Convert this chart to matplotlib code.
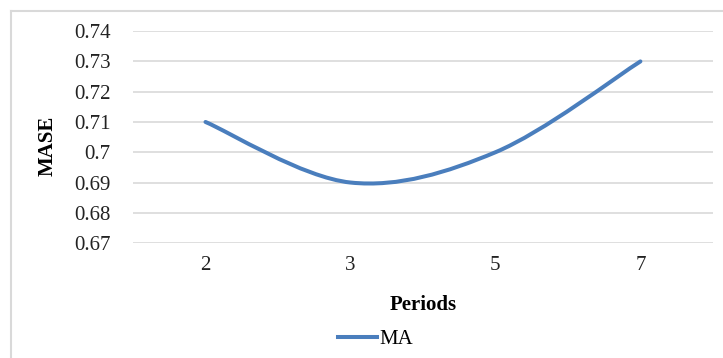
import numpy as np
import matplotlib.pyplot as plt
from matplotlib.path import Path
from matplotlib.patches import PathPatch
from matplotlib.lines import Line2D

periods = ['2', '3', '5', '7']
mase = [0.71, 0.69, 0.70, 0.73]
yticks = [0.67, 0.68, 0.69, 0.70, 0.71, 0.72, 0.73, 0.74]
ytick_labels = ['0.67', '0.68', '0.69', '0.7', '0.71', '0.72', '0.73', '0.74']

plt.rcParams['font.family'] = ['Liberation Serif', 'DejaVu Serif']
line_color = '#4a7ebd'
fs = 15

fig = plt.figure(figsize=(7.23, 3.58), dpi=100)
ax = fig.add_axes([0.184, 0.321, 0.802, 0.592])

# smoothed line: cubic bezier segments through each point (catmull-rom style)
x = np.arange(len(mase))
pts = np.column_stack([x, mase])
padded = np.vstack([pts[0], pts, pts[-1]])
verts = [tuple(pts[0])]
codes = [Path.MOVETO]
for i in range(len(pts) - 1):
    p0, p1, p2, p3 = padded[i], padded[i + 1], padded[i + 2], padded[i + 3]
    c1 = p1 + (p2 - p0) / 6
    c2 = p2 - (p3 - p1) / 6
    verts += [tuple(c1), tuple(c2), tuple(p2)]
    codes += [Path.CURVE4] * 3
ax.add_patch(PathPatch(Path(verts, codes), facecolor='none', edgecolor=line_color,
                       lw=2.9, capstyle='round', zorder=3))

ax.set_xlim(-0.5, len(periods) - 0.5)
ax.set_ylim(0.67, 0.74)
ax.set_xticks(x)
ax.set_xticklabels(periods)
ax.set_yticks(yticks)
ax.set_yticklabels(ytick_labels)
ax.tick_params(length=0, labelsize=fs, colors='#222222')
ax.tick_params(axis='x', pad=9)
ax.tick_params(axis='y', pad=16)
ax.yaxis.grid(True, color='#d9d9d9', lw=1.2)
ax.set_axisbelow(True)
for s in ax.spines.values():
    s.set_visible(False)

ax.set_xlabel('Periods', fontsize=fs, fontweight='bold')
ax.xaxis.set_label_coords(0.5, -0.247)
ax.set_ylabel('MASE', fontsize=fs, fontweight='bold')
ax.yaxis.set_label_coords(-0.13, 0.46)

handle = Line2D([], [], color=line_color, lw=2.9)
fig.legend([handle], ['MA'], loc='center', bbox_to_anchor=(0.519, 0.052),
           frameon=False, fontsize=fs, handlelength=1.9, handletextpad=0.1)

# chart frame
fig.add_artist(Line2D([11 / 723, 11 / 723], [0, 1 - 11 / 358], color='#d9d9d9', lw=1.5))
fig.add_artist(Line2D([11 / 723, 1], [1 - 11 / 358, 1 - 11 / 358], color='#d9d9d9', lw=1.5))

fig.savefig('out.png', dpi=100)
